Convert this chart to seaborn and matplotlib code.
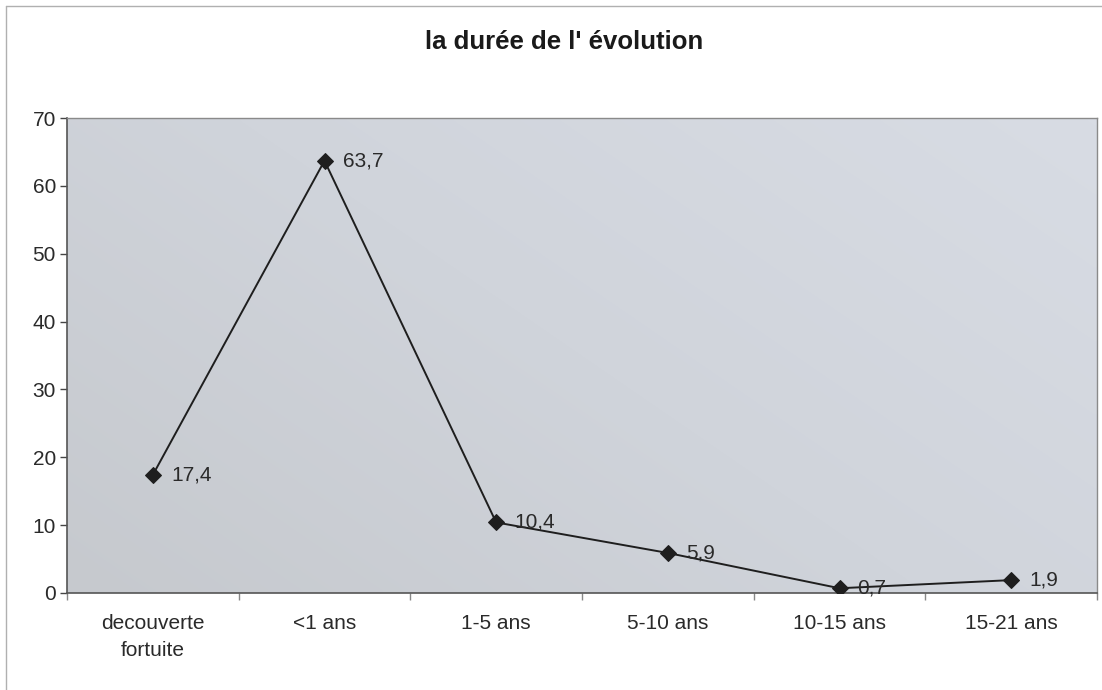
import numpy as np
import pandas as pd
import seaborn as sns
import matplotlib.pyplot as plt
from matplotlib.colors import LinearSegmentedColormap
from matplotlib.lines import Line2D

categories = ["decouverte\nfortuite", "<1 ans", "1-5 ans", "5-10 ans", "10-15 ans", "15-21 ans"]
values = [17.4, 63.7, 10.4, 5.9, 0.7, 1.9]
value_labels = ["17,4", "63,7", "10,4", "5,9", "0,7", "1,9"]
title = "la durée de l' évolution"

sns.set_theme(style="white")
plt.rcParams['font.family'] = ['Liberation Sans', 'DejaVu Sans']

df = pd.DataFrame({"cat": categories, "val": values})

fig = plt.figure(figsize=(11.02, 6.9), dpi=100)
ax = fig.add_axes([67 / 1102, 97 / 690, 1030 / 1102, 475 / 690])

# grey-blue background of the plot area
bg = LinearSegmentedColormap.from_list("bg", ["#c6c9ce", "#d0d4db", "#d8dce4"])
gx, gy = np.meshgrid(np.linspace(0, 1, 200), np.linspace(0, 1, 100))
ax.imshow(0.6 * gx + 0.4 * (1 - gy), cmap=bg, extent=(-0.5, 5.5, 0, 70),
          aspect="auto", zorder=0, interpolation="bilinear")

sns.lineplot(data=df, x="cat", y="val", ax=ax, color="#1e1e1e", lw=1.4,
             marker="D", markersize=8, markeredgecolor="#1e1e1e", sort=False, zorder=3)

for i, (v, lab) in enumerate(zip(values, value_labels)):
    ax.annotate(lab, (i, v), xytext=(13, 0), textcoords="offset points",
                va="center", ha="left", fontsize=15, color="#2a2a2a", zorder=4)

ax.set_xlim(-0.5, 5.5)
ax.set_ylim(0, 70)
ax.set_yticks(range(0, 71, 10))
ax.set_xticks(range(len(categories)))
ax.set_xticklabels(categories, fontsize=15, color="#2a2a2a", linespacing=1.55)
ax.tick_params(axis="y", labelsize=15, labelcolor="#2a2a2a", length=5, width=1,
               color="#444444", left=True, direction="out", pad=3)
ax.tick_params(axis="x", length=0, pad=15)
# category boundary ticks
ax.set_xticks(np.arange(-0.5, 6, 1), minor=True)
ax.tick_params(axis="x", which="minor", length=5, width=1, color="#888888", bottom=True)
ax.set_xlabel("")
ax.set_ylabel("")

for side in ["left", "bottom"]:
    ax.spines[side].set_color("#555555")
    ax.spines[side].set_linewidth(1.2)
for side in ["top", "right"]:
    ax.spines[side].set_color("#8a8a8a")
    ax.spines[side].set_linewidth(1.0)

fig.text(564 / 1102, 1 - 42 / 690, title, ha="center", va="center",
         fontsize=18.5, fontweight="bold", color="#1a1a1a")

# outer chart border (left and top edges visible in the reference)
fig.add_artist(Line2D([6 / 1102, 6 / 1102], [0, 1 - 6 / 690], transform=fig.transFigure,
                      color="#b0b0b0", lw=1.0))
fig.add_artist(Line2D([6 / 1102, 1], [1 - 6 / 690, 1 - 6 / 690], transform=fig.transFigure,
                      color="#b0b0b0", lw=1.0))

plt.savefig("out.png", dpi=100)
